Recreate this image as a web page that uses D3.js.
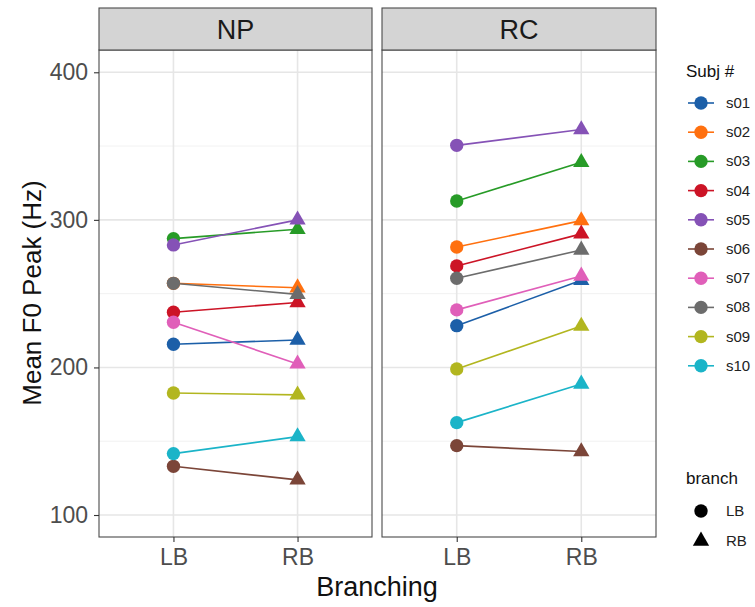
<!DOCTYPE html>
<html><head><meta charset="utf-8">
<script src="https://cdn.jsdelivr.net/npm/d3@7"></script>
<style>body{margin:0;background:#fff}svg{font-family:"Liberation Sans",Arial,sans-serif}</style>
</head><body><svg id="c" width="755" height="607"></svg>
<script>
const panels = ["NP", "RC"];
const branches = ["LB", "RB"];
const subjects = ["s01","s02","s03","s04","s05","s06","s07","s08","s09","s10"];
const colors = ["#1c5fa8","#ff700f","#279b27","#cc1426","#8552b6","#7b4538","#e05fb9","#6c6c6c","#b2b61f","#1bb4c8"];
// [LB, RB] per subject
const npValues = [[215.7,218.6],[257,254],[287.3,293.6],[237.4,244],[283,300],[133,123.8],[230.6,202.4],[257,249.5],[182.7,181.4],[141.6,153.1]];
const rcValues = [[228.3,259],[281.6,299.5],[312.8,339],[268.8,290.5],[350.5,361.2],[147,143],[239,262],[260.4,279.6],[199,228],[162.6,188.8]];
const yTicks = [100,200,300,400];
const yMinor = [150,250,350];

const svg = d3.select("#c");
const panelX = {NP:[99,372], RC:[382,656]};
const pTop = 50, pBottom = 537, stripTop = 8;
const y = d3.scaleLinear().domain([85.1,415.1]).range([pBottom, pTop]);
const dataByPanel = {NP: npValues, RC: rcValues};
const FONT = "Liberation Sans, Arial, sans-serif";

panels.forEach((p,pi)=>{
  const [x0,x1] = panelX[p];
  const x = d3.scalePoint().domain(branches).range([x0,x1]).padding(0.6);
  const g = svg.append("g");
  g.selectAll(".mn").data(yMinor).join("line").attr("x1",x0).attr("x2",x1)
    .attr("y1",d=>y(d)).attr("y2",d=>y(d)).attr("stroke","#ededed").attr("stroke-width",0.8);
  g.selectAll(".mj").data(yTicks).join("line").attr("x1",x0).attr("x2",x1)
    .attr("y1",d=>y(d)).attr("y2",d=>y(d)).attr("stroke","#e6e6e6").attr("stroke-width",1.6);
  g.selectAll(".vx").data(branches).join("line").attr("x1",d=>x(d)).attr("x2",d=>x(d))
    .attr("y1",pTop).attr("y2",pBottom).attr("stroke","#e6e6e6").attr("stroke-width",1.6);
  const vals = dataByPanel[p];
  subjects.forEach((s,si)=>{
    const v = vals[si];
    g.append("line").attr("x1",x("LB")).attr("y1",y(v[0])).attr("x2",x("RB")).attr("y2",y(v[1]))
      .attr("stroke",colors[si]).attr("stroke-width",1.6);
  });
  subjects.forEach((s,si)=>{
    const v = vals[si];
    g.append("path").attr("d",d3.symbol(d3.symbolCircle,140)())
      .attr("transform",`translate(${x("LB")},${y(v[0])})`).attr("fill",colors[si]);
    g.append("path").attr("d",d3.symbol(d3.symbolTriangle,115)())
      .attr("transform",`translate(${x("RB")},${y(v[1])})`).attr("fill",colors[si]);
  });
  g.append("rect").attr("x",x0).attr("y",pTop).attr("width",x1-x0).attr("height",pBottom-pTop)
    .attr("fill","none").attr("stroke","#4a4a4a").attr("stroke-width",1.1);
  g.append("rect").attr("x",x0).attr("y",stripTop).attr("width",x1-x0).attr("height",pTop-stripTop)
    .attr("fill","#d4d4d4").attr("stroke","#4a4a4a").attr("stroke-width",1.1);
  g.append("text").attr("x",(x0+x1)/2).attr("y",39).attr("text-anchor","middle")
    .attr("font-size",27).attr("fill","#1a1a1a").text(p);
  const xa = svg.append("g").attr("transform",`translate(0,${pBottom})`).call(d3.axisBottom(x).tickSize(5).tickPadding(7));
  xa.select(".domain").remove();
  xa.selectAll("line").attr("stroke","#333").attr("stroke-width",1.1);
  xa.selectAll("text").attr("font-size",23).attr("fill","#4d4d4d").attr("font-family",FONT);
});
const ya = svg.append("g").attr("transform",`translate(${panelX.NP[0]},0)`).call(d3.axisLeft(y).tickValues(yTicks).tickSize(5).tickPadding(6));
ya.select(".domain").remove();
ya.selectAll("line").attr("stroke","#333").attr("stroke-width",1.1);
ya.selectAll("text").attr("font-size",23).attr("fill","#4d4d4d").attr("font-family",FONT);

svg.append("text").attr("x",377).attr("y",596).attr("text-anchor","middle").attr("font-size",27).attr("fill","#111").text("Branching");
svg.append("text").attr("transform","translate(41,293) rotate(-90)").attr("text-anchor","middle").attr("font-size",26).attr("fill","#111").text("Mean F0 Peak (Hz)");

const lg = svg.append("g");
lg.append("text").attr("x",686).attr("y",77).attr("font-size",17).attr("fill","#111").text("Subj #");
subjects.forEach((s,i)=>{
  const yy = 103 + i*29.2;
  lg.append("line").attr("x1",688).attr("x2",714).attr("y1",yy).attr("y2",yy).attr("stroke",colors[i]).attr("stroke-width",1.6);
  lg.append("path").attr("d",d3.symbol(d3.symbolCircle,140)()).attr("transform",`translate(701,${yy})`).attr("fill",colors[i]);
  lg.append("text").attr("x",726).attr("y",yy+5).attr("font-size",15).attr("fill","#222").text(s);
});
lg.append("text").attr("x",686).attr("y",484).attr("font-size",17).attr("fill","#111").text("branch");
[["LB",d3.symbolCircle,140],["RB",d3.symbolTriangle,115]].forEach((b,i)=>{
  const yy = 511 + i*30;
  lg.append("path").attr("d",d3.symbol(b[1],b[2])()).attr("transform",`translate(701,${yy})`).attr("fill","#000");
  lg.append("text").attr("x",726).attr("y",yy+5).attr("font-size",15).attr("fill","#222").text(branches[i]);
});
</script></body></html>
